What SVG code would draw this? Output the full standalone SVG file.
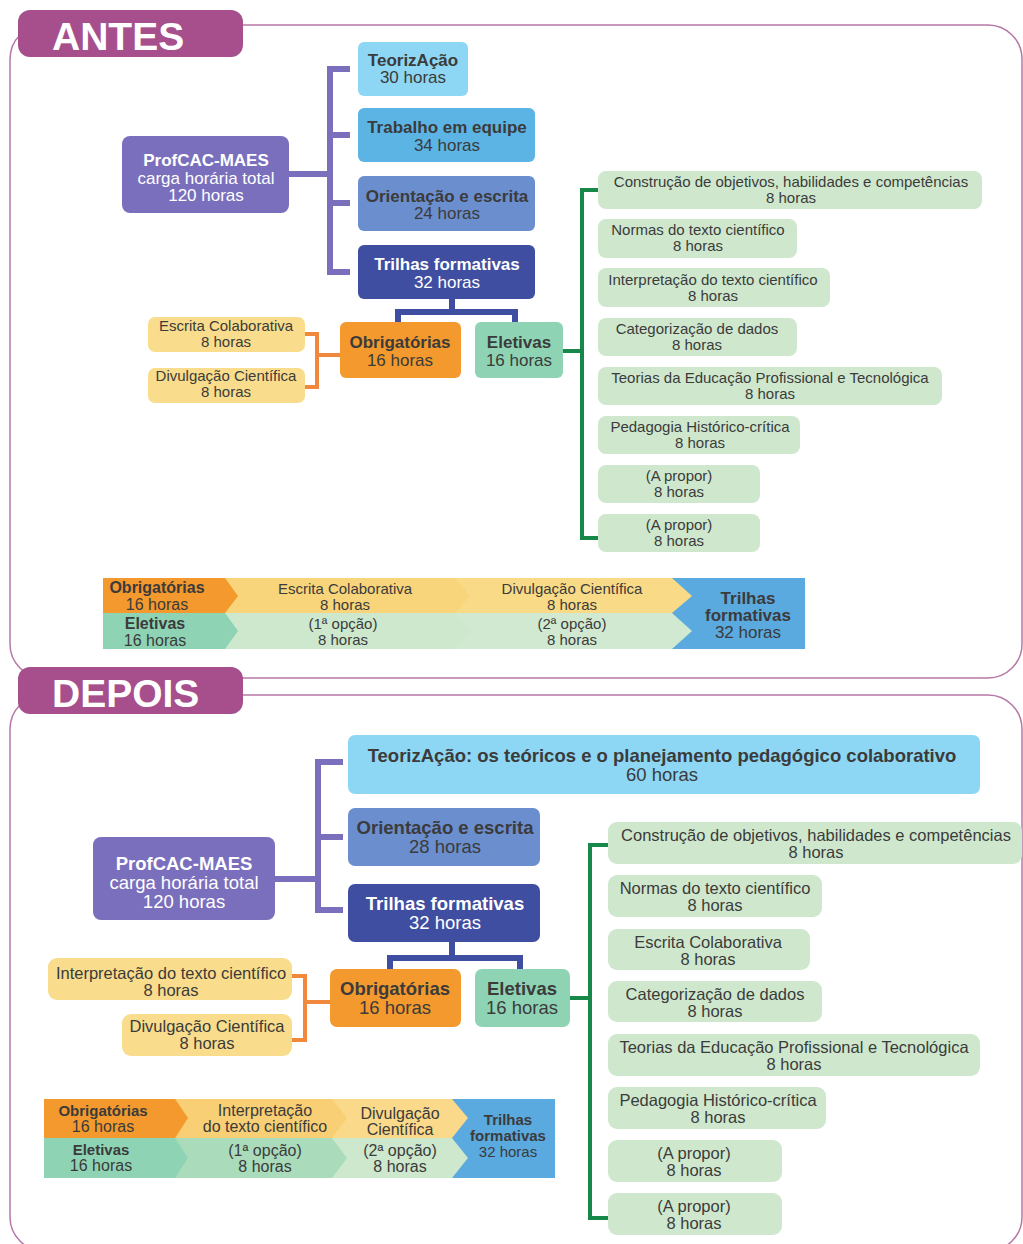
<svg xmlns="http://www.w3.org/2000/svg" width="1023" height="1244" viewBox="0 0 1023 1244">
<style>
text{font-family:"Liberation Sans",Arial,sans-serif;text-anchor:middle;fill:#3b3b3b}
.b{font-weight:bold}
.w{fill:#ffffff}
.tab{fill:#a64f8c}
.tabt{font-size:39px;font-weight:bold;fill:#ffffff;text-anchor:start}
.frame{fill:none;stroke:#b678a6;stroke-width:1.5}
.teo{fill:#8dd7f4}.trab{fill:#5cb4e4}.ori{fill:#6b8ecf}.tri{fill:#3f4ea0}.prof{fill:#7a6fbd}
.obr{fill:#f3992d}.ele{fill:#8ed4b4}.yel{fill:#f9dd8c}.grn{fill:#cfe8cd}
.cp{fill:none;stroke:#7a6fbd;stroke-width:6}
.cb{fill:none;stroke:#3f4ea0;stroke-width:6}
.co{fill:none;stroke:#f0883e;stroke-width:4}
.cg{fill:none;stroke:#17884a;stroke-width:4}
.f17{font-size:17px}.f15{font-size:15px}.f185{font-size:18.5px}.f165{font-size:16.5px}.f16{font-size:16px}
</style>

<!-- frames -->
<g id="frame-antes">
<rect class="frame" x="10" y="25" width="1012" height="653" rx="34"/>
<rect class="tab" x="18" y="10" width="225" height="47" rx="12"/>
<text class="tabt" x="52" y="50">ANTES</text>
</g>
<g id="frame-depois">
<rect class="frame" x="10" y="695" width="1012" height="556" rx="34"/>
<rect class="tab" x="18" y="667" width="225" height="47" rx="12"/>
<text class="tabt" x="52" y="707">DEPOIS</text>
</g>

<!-- ANTES connectors -->
<g id="connectors-antes">
<path class="cp" d="M289,174 H330 M350,69 H330 V272 H350 M330,135 H350 M330,203 H350"/>
<path class="cb" d="M452,299 V312 M398,323 V312 H515 V323"/>
<path class="co" d="M340,355 H317 M305,334 H317 V387 H305"/>
<path class="cg" d="M563,351 H582 M598,190 H582 V538 H598"/>
</g>

<!-- ANTES nodes -->
<g id="a-prof"><rect class="prof" x="122" y="136" width="167" height="77" rx="8"/>
<text class="f17 b w" x="206" y="166">ProfCAC-MAES</text><text class="f17 w" x="206" y="184">carga horária total</text><text class="f17 w" x="206" y="201">120 horas</text></g>
<g id="a-teo"><rect class="teo" x="358" y="42" width="110" height="54" rx="6"/>
<text class="f17 b" x="413" y="66">TeorizAção</text><text class="f17" x="413" y="83">30 horas</text></g>
<g id="a-trab"><rect class="trab" x="358" y="108" width="177" height="54" rx="6"/>
<text class="f17 b" x="447" y="133">Trabalho em equipe</text><text class="f17" x="447" y="151">34 horas</text></g>
<g id="a-ori"><rect class="ori" x="358" y="176" width="177" height="55" rx="6"/>
<text class="f17 b" x="447" y="202">Orientação e escrita</text><text class="f17" x="447" y="219">24 horas</text></g>
<g id="a-tri"><rect class="tri" x="358" y="245" width="177" height="54" rx="6"/>
<text class="f17 b w" x="447" y="270">Trilhas formativas</text><text class="f17 w" x="447" y="288">32 horas</text></g>
<g id="a-obr"><rect class="obr" x="340" y="322" width="121" height="56" rx="6"/>
<text class="f17 b" x="400" y="348">Obrigatórias</text><text class="f17" x="400" y="366">16 horas</text></g>
<g id="a-ele"><rect class="ele" x="475" y="322" width="88" height="56" rx="6"/>
<text class="f17 b" x="519" y="348">Eletivas</text><text class="f17" x="519" y="366">16 horas</text></g>
<g id="a-esc"><rect class="yel" x="148" y="317" width="157" height="35" rx="7"/>
<text class="f15" x="226" y="331">Escrita Colaborativa</text><text class="f15" x="226" y="347">8 horas</text></g>
<g id="a-div"><rect class="yel" x="148" y="368" width="157" height="35" rx="7"/>
<text class="f15" x="226" y="381">Divulgação Científica</text><text class="f15" x="226" y="397">8 horas</text></g>

<g id="a-g1"><rect class="grn" x="598" y="171" width="384" height="38" rx="8"/>
<text class="f15" x="791" y="187">Construção de objetivos, habilidades e competências</text><text class="f15" x="791" y="203">8 horas</text></g>
<g id="a-g2"><rect class="grn" x="598" y="219" width="199" height="39" rx="8"/>
<text class="f15" x="698" y="235">Normas do texto científico</text><text class="f15" x="698" y="251">8 horas</text></g>
<g id="a-g3"><rect class="grn" x="598" y="268" width="232" height="39" rx="8"/>
<text class="f15" x="713" y="285">Interpretação do texto científico</text><text class="f15" x="713" y="301">8 horas</text></g>
<g id="a-g4"><rect class="grn" x="598" y="318" width="199" height="38" rx="8"/>
<text class="f15" x="697" y="334">Categorização de dados</text><text class="f15" x="697" y="350">8 horas</text></g>
<g id="a-g5"><rect class="grn" x="598" y="367" width="344" height="38" rx="8"/>
<text class="f15" x="770" y="383">Teorias da Educação Profissional e Tecnológica</text><text class="f15" x="770" y="399">8 horas</text></g>
<g id="a-g6"><rect class="grn" x="598" y="416" width="202" height="38" rx="8"/>
<text class="f15" x="700" y="432">Pedagogia Histórico-crítica</text><text class="f15" x="700" y="448">8 horas</text></g>
<g id="a-g7"><rect class="grn" x="598" y="465" width="162" height="38" rx="8"/>
<text class="f15" x="679" y="481">(A propor)</text><text class="f15" x="679" y="497">8 horas</text></g>
<g id="a-g8"><rect class="grn" x="598" y="514" width="162" height="38" rx="8"/>
<text class="f15" x="679" y="530">(A propor)</text><text class="f15" x="679" y="546">8 horas</text></g>

<!-- ANTES table -->
<g id="a-table">
<rect x="660" y="578" width="145" height="71" fill="#5aa9df"/>
<polygon points="455,578 672,578 692,596 672,613 455,613" fill="#f9da86"/>
<polygon points="225,578 455,578 470,596 455,613 225,613" fill="#f8d57a"/>
<polygon points="103,578 225,578 238,596 225,613 103,613" fill="#f3992d"/>
<polygon points="455,613 672,613 692,631 672,649 455,649" fill="#d0e9d0"/>
<polygon points="225,613 455,613 470,631 455,649 225,649" fill="#cde8cc"/>
<polygon points="103,613 225,613 238,631 225,649 103,649" fill="#8ed4b4"/>
<text class="f16 b" x="157" y="593">Obrigatórias</text><text class="f16" x="157" y="610">16 horas</text>
<text class="f16 b" x="155" y="629">Eletivas</text><text class="f16" x="155" y="646">16 horas</text>
<text class="f15" x="345" y="594">Escrita Colaborativa</text><text class="f15" x="345" y="610">8 horas</text>
<text class="f15" x="572" y="594">Divulgação Científica</text><text class="f15" x="572" y="610">8 horas</text>
<text class="f15" x="343" y="629">(1ª opção)</text><text class="f15" x="343" y="645">8 horas</text>
<text class="f15" x="572" y="629">(2ª opção)</text><text class="f15" x="572" y="645">8 horas</text>
<text class="f17 b" x="748" y="604">Trilhas</text><text class="f17 b" x="748" y="621">formativas</text><text class="f17" x="748" y="638">32 horas</text>
</g>

<!-- DEPOIS connectors -->
<g id="connectors-depois">
<path class="cp" d="M275,879 H318 M343,762 H318 V910 H343 M318,837 H343"/>
<path class="cb" d="M452,942 V958 M390,970 V958 H520 V970"/>
<path class="co" d="M330,1002 H305 M292,976 H305 V1040 H292"/>
<path class="cg" d="M570,998 H590 M608,845 H590 V1218 H608"/>
</g>

<!-- DEPOIS nodes -->
<g id="d-prof"><rect class="prof" x="93" y="837" width="182" height="83" rx="8"/>
<text class="f185 b w" x="184" y="870">ProfCAC-MAES</text><text class="f185 w" x="184" y="889">carga horária total</text><text class="f185 w" x="184" y="908">120 horas</text></g>
<g id="d-teo"><rect class="teo" x="348" y="735" width="632" height="59" rx="7"/>
<text class="f185 b" x="662" y="762">TeorizAção: os teóricos e o planejamento pedagógico colaborativo</text><text class="f185" x="662" y="781">60 horas</text></g>
<g id="d-ori"><rect class="ori" x="348" y="808" width="192" height="58" rx="7"/>
<text class="f185 b" x="445" y="834">Orientação e escrita</text><text class="f185" x="445" y="853">28 horas</text></g>
<g id="d-tri"><rect class="tri" x="348" y="884" width="192" height="58" rx="7"/>
<text class="f185 b w" x="445" y="910">Trilhas formativas</text><text class="f185 w" x="445" y="929">32 horas</text></g>
<g id="d-obr"><rect class="obr" x="330" y="969" width="131" height="58" rx="7"/>
<text class="f185 b" x="395" y="995">Obrigatórias</text><text class="f185" x="395" y="1014">16 horas</text></g>
<g id="d-ele"><rect class="ele" x="475" y="969" width="95" height="58" rx="7"/>
<text class="f185 b" x="522" y="995">Eletivas</text><text class="f185" x="522" y="1014">16 horas</text></g>
<g id="d-int"><rect class="yel" x="48" y="958" width="244" height="42" rx="9"/>
<text class="f165" x="171" y="979">Interpretação do texto científico</text><text class="f165" x="171" y="996">8 horas</text></g>
<g id="d-div"><rect class="yel" x="122" y="1014" width="170" height="42" rx="9"/>
<text class="f165" x="207" y="1032">Divulgação Científica</text><text class="f165" x="207" y="1049">8 horas</text></g>

<g id="d-g1"><rect class="grn" x="608" y="822" width="414" height="42" rx="9"/>
<text class="f165" x="816" y="841">Construção de objetivos, habilidades e competências</text><text class="f165" x="816" y="858">8 horas</text></g>
<g id="d-g2"><rect class="grn" x="608" y="875" width="214" height="42" rx="9"/>
<text class="f165" x="715" y="894">Normas do texto científico</text><text class="f165" x="715" y="911">8 horas</text></g>
<g id="d-g3"><rect class="grn" x="608" y="929" width="202" height="41" rx="9"/>
<text class="f165" x="708" y="948">Escrita Colaborativa</text><text class="f165" x="708" y="965">8 horas</text></g>
<g id="d-g4"><rect class="grn" x="608" y="981" width="214" height="41" rx="9"/>
<text class="f165" x="715" y="1000">Categorização de dados</text><text class="f165" x="715" y="1017">8 horas</text></g>
<g id="d-g5"><rect class="grn" x="608" y="1034" width="372" height="42" rx="9"/>
<text class="f165" x="794" y="1053">Teorias da Educação Profissional e Tecnológica</text><text class="f165" x="794" y="1070">8 horas</text></g>
<g id="d-g6"><rect class="grn" x="608" y="1087" width="218" height="42" rx="9"/>
<text class="f165" x="718" y="1106">Pedagogia Histórico-crítica</text><text class="f165" x="718" y="1123">8 horas</text></g>
<g id="d-g7"><rect class="grn" x="608" y="1140" width="174" height="42" rx="9"/>
<text class="f165" x="694" y="1159">(A propor)</text><text class="f165" x="694" y="1176">8 horas</text></g>
<g id="d-g8"><rect class="grn" x="608" y="1193" width="174" height="42" rx="9"/>
<text class="f165" x="694" y="1212">(A propor)</text><text class="f165" x="694" y="1229">8 horas</text></g>

<!-- DEPOIS table -->
<g id="d-table">
<rect x="445" y="1099" width="110" height="79" fill="#5aa9df"/>
<polygon points="332,1099 452,1099 468,1118 452,1138 332,1138" fill="#fad98a"/>
<polygon points="175,1099 332,1099 347,1118 332,1138 175,1138" fill="#f8cf74"/>
<polygon points="44,1099 175,1099 188,1118 175,1138 44,1138" fill="#f3992d"/>
<polygon points="332,1138 452,1138 468,1158 452,1178 332,1178" fill="#cde8cc"/>
<polygon points="175,1138 332,1138 347,1158 332,1178 175,1178" fill="#aadcbc"/>
<polygon points="44,1138 175,1138 188,1158 175,1178 44,1178" fill="#8ed4b4"/>
<text class="f15 b" x="103" y="1116">Obrigatórias</text><text class="f16" x="103" y="1132">16 horas</text>
<text class="f15 b" x="101" y="1155">Eletivas</text><text class="f16" x="101" y="1171">16 horas</text>
<text class="f16" x="265" y="1116">Interpretação</text><text class="f16" x="265" y="1132">do texto científico</text>
<text class="f16" x="400" y="1119">Divulgação</text><text class="f16" x="400" y="1135">Científica</text>
<text class="f16" x="265" y="1156">(1ª opção)</text><text class="f16" x="265" y="1172">8 horas</text>
<text class="f16" x="400" y="1156">(2ª opção)</text><text class="f16" x="400" y="1172">8 horas</text>
<text class="f15 b" x="508" y="1125">Trilhas</text><text class="f15 b" x="508" y="1141">formativas</text><text class="f15" x="508" y="1157">32 horas</text>
</g>
</svg>
